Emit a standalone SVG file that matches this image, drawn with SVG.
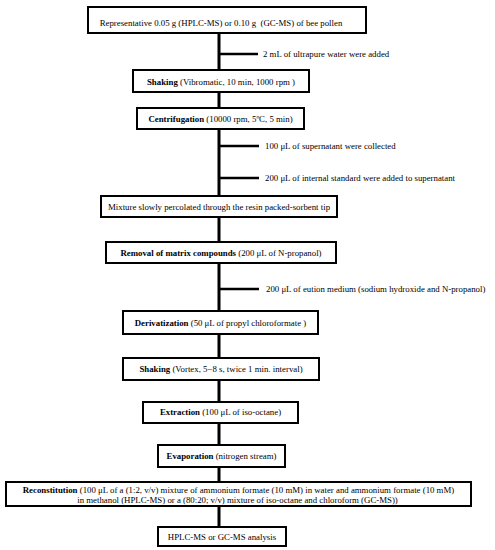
<svg xmlns="http://www.w3.org/2000/svg" width="495" height="550" viewBox="0 0 495 550">
<style>
.box{fill:#fff;stroke:#000;stroke-width:2}
.t{font-family:"Liberation Serif","Times New Roman",serif;font-size:8.8px;fill:#000;white-space:pre}
.c{text-anchor:middle}
.b{font-weight:bold}
.trunk{stroke:#000;stroke-width:3;fill:none}
.br{stroke:#000;stroke-width:2.5;fill:none}
</style>
<rect width="495" height="550" fill="#fff"/>
<g id="connectors">
<line class="trunk" x1="219" y1="33" x2="219" y2="527"/>
<line class="br" x1="219" y1="54" x2="258" y2="54"/>
<line class="br" x1="219" y1="146" x2="259" y2="146"/>
<line class="br" x1="219" y1="178" x2="259" y2="178"/>
<line class="br" x1="219" y1="289" x2="259" y2="289"/>
</g>
<g id="n1"><rect class="box" x="88" y="7" width="278" height="26"/><text class="t c" x="221" y="25.5">Representative 0.05 g (HPLC-MS) or 0.10 g  (GC-MS) of bee pollen</text></g>
<g id="l1"><text class="t" x="263" y="57">2 mL of ultrapure water were added</text></g>
<g id="n2"><rect class="box" x="133" y="70" width="176" height="22"/><text class="t c" x="221" y="85"><tspan class="b">Shaking</tspan> (Vibromatic, 10 min, 1000 rpm )</text></g>
<g id="n3"><rect class="box" x="137" y="108" width="167" height="21"/><text class="t c" x="220.5" y="122"><tspan class="b">Centrifugation</tspan> (10000 rpm, 5ºC, 5 min)</text></g>
<g id="l2"><text class="t" x="265" y="149">100 μL of supernatant were collected</text></g>
<g id="l3"><text class="t" x="265" y="181">200 μL of internal standard were added to supernatant</text></g>
<g id="n4"><rect class="box" x="101" y="196" width="236" height="21"/><text class="t c" x="219" y="209.5">Mixture slowly percolated through the resin packed-sorbent tip</text></g>
<g id="n5"><rect class="box" x="106" y="242" width="230" height="21"/><text class="t c" x="221" y="256"><tspan class="b">Removal of matrix compounds</tspan> (200 μL of N-propanol)</text></g>
<g id="l4"><text class="t" x="266" y="292">200 μL of eution medium (sodium hydroxide and N-propanol)</text></g>
<g id="n6"><rect class="box" x="123" y="311" width="195" height="23"/><text class="t c" x="220.5" y="325.5"><tspan class="b">Derivatization</tspan> (50 μL of propyl chloroformate )</text></g>
<g id="n7"><rect class="box" x="123" y="358" width="196" height="22"/><text class="t c" x="221" y="372"><tspan class="b">Shaking</tspan> (Vortex, 5−8 s, twice 1 min. interval)</text></g>
<g id="n8"><rect class="box" x="143" y="402" width="155" height="21"/><text class="t c" x="220.5" y="415"><tspan class="b">Extraction</tspan> (100 μL of iso-octane)</text></g>
<g id="n9"><rect class="box" x="158" y="445" width="127" height="22"/><text class="t c" x="221.5" y="459"><tspan class="b">Evaporation</tspan> (nitrogen stream)</text></g>
<g id="n10"><rect class="box" x="6" y="482" width="465" height="24"/><text class="t c" x="238.5" y="492.5"><tspan class="b">Reconstitution</tspan> (100 μL of a (1:2, v/v) mixture of ammonium formate (10 mM) in water and ammonium formate (10 mM)</text><text class="t c" x="237.5" y="502.5">in methanol (HPLC-MS) or a (80:20; v/v) mixture of iso-octane and chloroform (GC-MS))</text></g>
<g id="n11"><rect class="box" x="158" y="527" width="128" height="19"/><text class="t c" x="222" y="539.5">HPLC-MS or GC-MS analysis</text></g>
</svg>
